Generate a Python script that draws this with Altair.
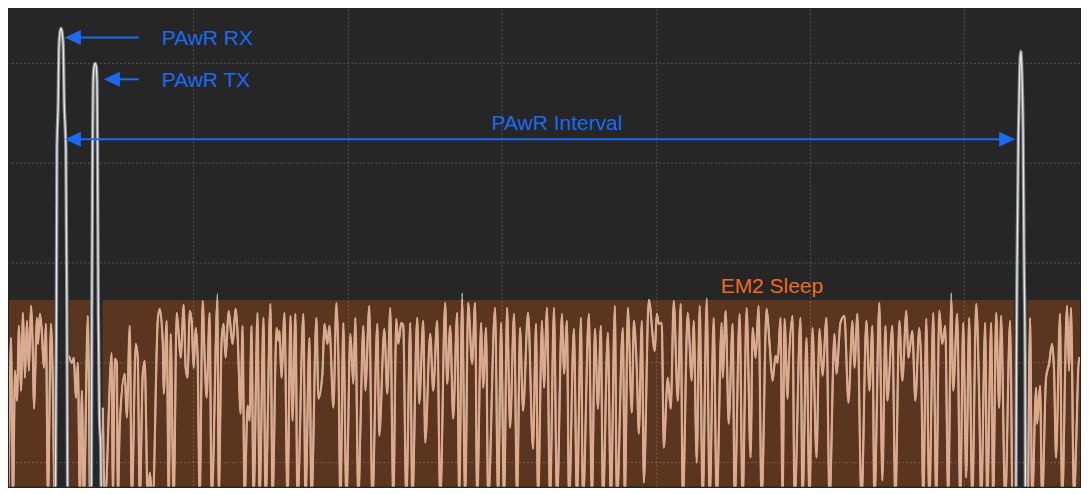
import altair as alt
import pandas as pd

# ---- data (x: sample index, y: current level; grid every 100 units) ----
noise_segments = [
    # before PAwR RX
    [(5,147),(7,-40),(10,125),(12,-40),(14,92),(16,62),(18,137),(20,72),(22,150),(24,85),(26,142),
     (28,92),(30,157),(32,105),(33,54),(36,145),(37,119),(39,149),(41,129),(43,95),(45,139),(47,-40),
     (50,139),(52,72),(53.5,-40)],
    # between RX and TX
    [(68,107),(71,100),(73,105),(75,65),(77,100),(79,-40),(81,72),(83,-40),(87,147),(89,-40)],
    # main sleep period
    [(102,55),(104,-40),(111,110),(112,-40),(114,104),(116,100),(117,-40),(119,39),(124,89),(126,45),
     (129,137),(131,-40),(135,119),(137,105),(139,-40),(142,89),(144,102),(147,-40),(149,-10),(152,-40),
     (157,142),(159,154),(162,122),(163,69),(166,142),(168,-40),(170,129),(173,-40),(176,150),(178,129),
     (180,105),(183,158),(185,95),(187,85),(189,152),(191,142),(193,95),(195,135),(197,105),(199,-40),
     (202,162),(204,105),(206,65),(209,150),(211,-40),(217,169),(218,-40),(221,122),(223,139),(225,105),
     (228,152),(232,119),(235,154),(237,129),(240,49),(242,137),(244,-40),(247,57),(249,42),(251,137),
     (253,-40),(257,150),(259,-40),(263,145),(265,-40),(270,159),(272,-40),(276,135),(278,122),(279,132),
     (281,85),(284,150),(287,-40),(290,147),(292,42),(295,149),(297,-40),(303,149),(305,-40),(309,125),
     (311,-40),(316,145),(318,64),(322,89),(324,139),(327,119),(329,137),(333,55),(336,160),(338,105),
     (340,-40),(343,140),(346,-40),(350,129),(353,79),(355,145),(358,-40),(360,32),(363,137),(365,72),
     (369,157),(372,-40),(377,139),(379,27),(384,134),(387,69),(390,155),(393,-40),(396,144),(398,119),
     (401,140),(403,137),(406,-40),(410,140),(412,-40),(417,145),(419,59),(423,142),(425,20),(430,129),
     (433,72),(437,142),(440,-40),(445,160),(447,79),(450,137),(453,44),(457,150),(459,-40),(462,170),
     (465,-40),(468,160),(472,99),(475,160),(477,-40),(481,140),(483,75),(486,135),(488,-40),(495,155),
     (498,-40),(501,140),(504,-40),(507,155),(510,35),(514,149),(517,-40),(520,135),(523,52),(528,150),
     (533,14),(536,139),(538,-40),(542,142),(544,75),(547,155),(550,-40),(554,155),(557,-40),(562,149),
     (564,89),(567,142),(569,-40),(574,134),(577,-40),(581,145),(583,-40),(589,149),(592,-40),(595,134),
     (598,54),(601,137),(603,-40),(608,130),(611,-40),(615,157),(617,-40),(623,135),(625,-40),(628,155),
     (632,50),(634,142),(637,92),(639,29),(642,142),(644,-20),(649,163),(655,112),(657,149),(659,139),
     (662,140),(664,15),(668,85),(671,54),(674,162),(678,62),(681,159),(683,-40),(688,150),(692,82),
     (694,142),(697,0),(700,157),(703,-40),(707,165),(710,-40),(714,145),(717,-40),(722,140),(723,85),
     (726,152),(729,39),(733,139),(735,-40),(740,149),(743,-40),(747,155),(751,5),(753,135),(756,105),
     (759,157),(762,-40),(767,154),(770,119),(773,82),(776,107),(778,100),(781,145),(783,-40),(785,144),
     (788,64),(789,92),(793,147),(795,-40),(801,145),(803,-40),(807,125),(810,-40),(813,135),(817,5),
     (820,134),(823,87),(827,145),(830,-40),(835,129),(837,89),(841,140),(845,147),(849,60),(853,142),
     (855,95),(858,149),(862,-40),(867,142),(870,72),(873,137),(875,-40),(880,160),(883,-18),(886,137),
     (888,62),(893,137),(896,-40),(900,142),(903,82),(907,152),(909,105),(913,132),(916,62),(920,135),
     (922,92),(924,-40),(927,144),(930,-40),(934,150),(937,-40),(940,152),(943,119),(946,137),(949,-40),
     (952,170),(954,72),(958,149),(961,-40),(964,140),(967,-15),(970,145),(973,-40),(977,159),(980,65),
     (982,-40),(986,140),(988,-40),(992,140),(994,-40),(997,150),(1000,55),(1002,147),(1006,-40),
     (1011,142),(1013,-40)],
    # after second RX
    [(1029,-40),(1031,145),(1033,-40),(1037,75),(1038,39),(1041,77),(1043,-40),(1047,85),(1050,99),
     (1053,119),(1055,92),(1057,5),(1061,149),(1063,-40),(1068,157),(1070,92),(1072,155),(1075,-40),
     (1077,15),(1080,105),(1083,89),(1085,-40),(1088,42),(1090,60)],
]

spike_rx_x = [54.5, 55.5, 56, 57.3, 58, 59, 60, 61, 62.3, 63.3, 65, 66, 66.7]
spike_rx_y = [-40, 150, 312, 362, 415, 430, 435, 432, 418, 362, 312, 150, -40]
spike_tx_x = [90.5, 91, 91.7, 92.3, 93, 94.3, 95.5, 96.2, 96.7, 97.5, 98.5, 100, 100.5]
spike_tx_y = [-40, 150, 312, 380, 395, 400, 396, 380, 312, 150, 50, 10, -40]
spike_rx2_x = [1016.8, 1017.3, 1018, 1019.3, 1020.5, 1021.7, 1022.8, 1024, 1025, 1026, 1026.3]
spike_rx2_y = [-40, 100, 200, 329, 390, 412, 390, 329, 200, 100, -40]

band_top = 163          # EM2 sleep band upper level
band_bottom = -40
gap_x0 = [53.3, 89.3, 1015.3]
gap_x1 = [68.3, 101.7, 1028.3]

grid_x = [193, 348, 502, 657, 811, 965]
grid_y = [0, 100, 200, 300, 400]

labels = ["PAwR RX", "PAwR TX", "PAwR Interval", "EM2 Sleep"]
label_x = [161, 161, 491.5, 721]
label_y = [418, 376, 333, 170]
label_color = ["#1b6bf2", "#1b6bf2", "#1b6bf2", "#f26a1b"]

arrow_x0 = [70, 110, 70]
arrow_x1 = [138, 138, 1010]
arrow_y = [426, 384, 324]
head_x = [64, 103, 64, 1016]
head_y = [426, 384, 324, 324]
head_dir = ["left", "left", "left", "right"]

X_DOM = [8, 1081]
Y_DOM = [-24, 454]
BG = "#262626"
BROWN = "#5a351f"
PEACH = "#dcaa8d"
BLUE = "#1b6bf2"

xs = alt.Scale(domain=X_DOM, nice=False, zero=False)
ys = alt.Scale(domain=Y_DOM, nice=False, zero=False)

# ---- tables ----
rows = []
k = 0
for s, seg in enumerate(noise_segments):
    for (x, y) in seg:
        rows.append({"x": x, "y": y, "seg": s, "i": k})
        k += 1
noise_df = pd.DataFrame(rows)

sp = []
k = 0
for s, (sx, sy) in enumerate([(spike_rx_x, spike_rx_y), (spike_tx_x, spike_tx_y), (spike_rx2_x, spike_rx2_y)]):
    for x, y in zip(sx, sy):
        sp.append({"x": x, "y": y, "seg": s, "i": k})
        k += 1
spike_df = pd.DataFrame(sp)

band_df = pd.DataFrame({"x0": [0], "x1": [1100], "y0": [band_bottom], "y1": [band_top]})
gap_df = pd.DataFrame({"x0": gap_x0, "x1": gap_x1, "y0": [band_bottom] * 3, "y1": [band_top] * 3})
gx_df = pd.DataFrame({"x": grid_x})
gy_df = pd.DataFrame({"y": grid_y})
lab_df = pd.DataFrame({"t": labels, "x": label_x, "y": label_y, "c": label_color})
arr_df = pd.DataFrame({"x0": arrow_x0, "x1": arrow_x1, "y": arrow_y})
head_df = pd.DataFrame({"x": head_x, "y": head_y, "d": head_dir})

X = lambda f: alt.X(f, type="quantitative", scale=xs, axis=None)
Y = lambda f: alt.Y(f, type="quantitative", scale=ys, axis=None)

band = alt.Chart(band_df).mark_rect(color=BROWN, clip=True).encode(
    x=X("x0"), x2="x1", y=Y("y0"), y2="y1")
gaps = alt.Chart(gap_df).mark_rect(color=BG, clip=True).encode(
    x=X("x0"), x2="x1", y=Y("y0"), y2="y1")
vgrid = alt.Chart(gx_df).mark_rule(color="#ffffff", opacity=0.22, strokeDash=[2, 2], strokeWidth=1).encode(x=X("x"))
hgrid = alt.Chart(gy_df).mark_rule(color="#ffffff", opacity=0.22, strokeDash=[2, 2], strokeWidth=1).encode(y=Y("y"))

noise_grey = alt.Chart(noise_df).mark_line(
    color="#a9b7c6", strokeWidth=1.8, clip=True, interpolate="monotone").encode(
    x=X("x"), y=Y("y"), detail="seg:N", order="i:Q")
noise_peach = alt.Chart(noise_df).transform_calculate(
    yc=f"min(datum.y, {band_top})").mark_line(
    color=PEACH, strokeWidth=2.2, clip=True, interpolate="monotone").encode(
    x=X("x"), y=Y("yc"), detail="seg:N", order="i:Q")

spike_outer = alt.Chart(spike_df).mark_line(
    color="#85898e", strokeWidth=3.4, clip=True, interpolate="monotone").encode(
    x=X("x"), y=Y("y"), detail="seg:N", order="i:Q")
spike_inner = alt.Chart(spike_df).mark_line(
    color="#e4e6e8", strokeWidth=1.3, clip=True, interpolate="monotone").encode(
    x=X("x"), y=Y("y"), detail="seg:N", order="i:Q")

arrows = alt.Chart(arr_df).mark_rule(color=BLUE, strokeWidth=2).encode(x=X("x0"), x2="x1", y=Y("y"))
head_l = alt.Chart(head_df).transform_filter("datum.d == 'left'").mark_point(
    shape="M0,0L2,-0.94L2,0.94Z", size=256, filled=True, color=BLUE, opacity=1, strokeWidth=0).encode(
    x=X("x"), y=Y("y"))
head_r = alt.Chart(head_df).transform_filter("datum.d == 'right'").mark_point(
    shape="M0,0L-2,-0.94L-2,0.94Z", size=256, filled=True, color=BLUE, opacity=1, strokeWidth=0).encode(
    x=X("x"), y=Y("y"))

texts = alt.Chart(lab_df).mark_text(
    align="left", baseline="alphabetic", font="Liberation Sans", fontSize=21).encode(
    x=X("x"), y=Y("y"), text="t:N", color=alt.Color("c:N", scale=None))

chart = alt.layer(
    band, gaps, vgrid, hgrid, noise_grey, noise_peach, spike_outer, spike_inner,
    arrows, head_l, head_r, texts
).properties(width=1073, height=478, background=BG, padding=0).configure_view(stroke=None, fill=BG)

chart.save("out.html", embed_options={"renderer": "svg", "actions": False})
